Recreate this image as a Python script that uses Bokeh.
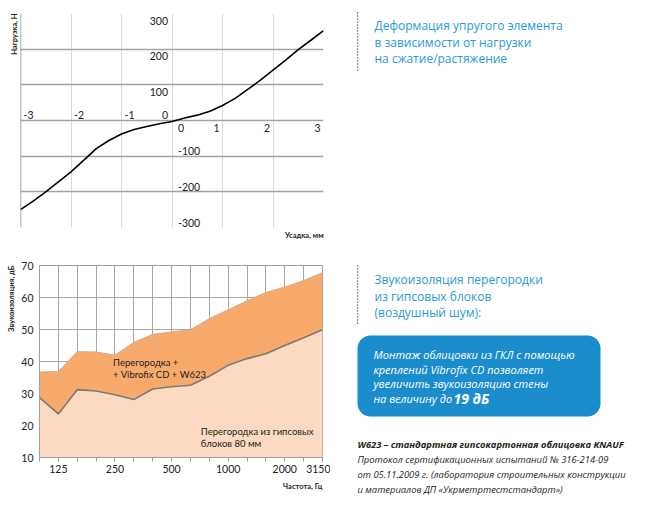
from bokeh.plotting import figure
from bokeh.models import Range1d, FixedTicker, Grid, Label, Span, ColumnDataSource, Title
from bokeh.layouts import column, row
from bokeh.embed import file_html
from bokeh.resources import INLINE
import math

# ---------------- data: deformation of elastic element ----------------
shrink_mm = [-3, -2.75, -2.5, -2.25, -2, -1.75, -1.5, -1.25, -1, -0.75, -0.5, -0.25, 0,
             0.25, 0.5, 0.75, 1, 1.25, 1.5, 1.75, 2, 2.25, 2.5, 2.75, 3]
load_n = [-250, -226, -200, -172, -144, -112, -79, -56, -38, -25, -17, -9, -3,
          7, 15, 26, 42, 62, 87, 113, 141, 169, 199, 225, 252]
top_x_ticks = [-3, -2, -1, 0, 1, 2, 3]
top_y_ticks = [-300, -200, -100, 0, 100, 200, 300]
top_x_title = "Усадка, мм"
top_y_title = "Нагрузка, Н"

# ---------------- data: sound insulation ----------------
freq_labels = ["100", "125", "160", "200", "250", "315", "400", "500", "630",
               "800", "1000", "1250", "1600", "2000", "2500", "3150"]
shown_freqs = ["125", "250", "500", "1000", "2000", "3150"]
with_vibrofix = [36.7, 36.9, 43.1, 43.0, 42.0, 46.0, 48.5, 49.3, 49.9, 53.4,
                 56.2, 59.0, 61.6, 63.3, 65.3, 67.8]
gypsum_wall = [28.7, 23.6, 31.2, 30.8, 29.6, 28.1, 31.4, 32.1, 32.6, 35.4,
               38.8, 40.9, 42.4, 45.0, 47.4, 49.9]
db_ticks = [10, 20, 30, 40, 50, 60, 70]
bot_x_title = "Частота, Гц"
bot_y_title = "Звукоизоляция, дБ"
series_upper_name = ["Перегородка +", "+ Vibrofix CD + W623"]
series_lower_name = ["Перегородка из гипсовых", "блоков 80 мм"]

FONT = "Lato"
HFONT = "Open Sans"
BLUE_TXT = "#2a9ad6"
INK = "#222222"


def drop_grids(f):
    f.center = [c for c in f.center if not isinstance(c, Grid)]


# ================= top chart =================
p1 = figure(width=348, height=258, x_range=Range1d(-3, 3), y_range=Range1d(-300, 300),
            x_axis_location=None, y_axis_location=None, output_backend="svg",
            toolbar_location=None, min_border_left=20, min_border_right=25,
            min_border_top=13, min_border_bottom=31)
drop_grids(p1)
p1.outline_line_color = None
p1.add_layout(Grid(dimension=0, ticker=FixedTicker(ticks=top_x_ticks[1:]),
                   grid_line_color="#d9d9d9", grid_line_width=1))
p1.add_layout(Grid(dimension=1, ticker=FixedTicker(ticks=top_y_ticks),
                   grid_line_color="#a3a3a3", grid_line_width=1.5))
p1.add_layout(Span(location=top_x_ticks[0], dimension="height",
                   line_color="#8c8c8c", line_width=1.5))
p1.line(shrink_mm, load_n, line_color="black", line_width=1.6)

for v in top_x_ticks:
    if v < 0:
        lab = Label(x=v, y=0, x_offset=3, y_offset=6, text=str(v), text_align="left")
    elif v == 0:
        lab = Label(x=v, y=0, x_offset=6, y_offset=-7, text=str(v), text_align="left")
    else:
        lab = Label(x=v, y=0, x_offset=-3, y_offset=-7, text=str(v), text_align="right")
    lab.text_baseline = "middle"
    lab.text_font = FONT
    lab.text_font_size = "10.5px"
    lab.text_color = INK
    p1.add_layout(lab)

for v in top_y_ticks:
    if v > 0:
        lab = Label(x=0, y=v, x_offset=-4, y_offset=-7, text=str(v), text_align="right")
    elif v == 0:
        lab = Label(x=0, y=v, x_offset=-4, y_offset=6, text=str(v), text_align="right")
    else:
        lab = Label(x=0, y=v, x_offset=6, y_offset=5, text=str(v), text_align="left")
    lab.text_baseline = "middle"
    lab.text_font = FONT
    lab.text_font_size = "10.5px"
    lab.text_color = INK
    p1.add_layout(lab)

p1.add_layout(Title(text=top_x_title, align="right", standoff=2, text_font=FONT,
                    text_font_size="7.5px", text_font_style="bold", text_color=INK),
              "below")
p1.add_layout(Title(text=top_y_title, align="right", standoff=4, text_font=FONT,
                    text_font_size="7.5px", text_font_style="bold", text_color=INK),
              "left")

# ================= bottom chart =================
idx = list(range(len(freq_labels)))
src = ColumnDataSource(dict(x=idx, base=[db_ticks[0]] * len(idx),
                            up=with_vibrofix, low=gypsum_wall))
p2 = figure(width=330, height=250, x_range=Range1d(idx[0], idx[-1]),
            y_range=Range1d(db_ticks[0], db_ticks[-1]), output_backend="svg",
            toolbar_location=None, min_border_left=39, min_border_right=8,
            min_border_top=7, min_border_bottom=51)
p2.outline_line_color = "#9e9e9e"
p2.varea(x="x", y1="base", y2="up", source=src, fill_color="#f7aa6c")
p2.varea(x="x", y1="base", y2="low", source=src, fill_color="#fbdac1")
p2.line(x="x", y="up", source=src, line_color="#c9a58a", line_width=0.8)
p2.line(x="x", y="low", source=src, line_color="#7a7a7a", line_width=1.6)

p2.yaxis.ticker = FixedTicker(ticks=db_ticks)
p2.yaxis.major_tick_out = 0
p2.yaxis.major_tick_in = 0
p2.yaxis.minor_tick_line_color = None
p2.yaxis.axis_line_color = "#9e9e9e"
p2.yaxis.major_label_standoff = 6
p2.yaxis.major_label_text_font = FONT
p2.yaxis.major_label_text_font_size = "10.5px"
p2.yaxis.major_label_text_color = INK

p2.xaxis.ticker = FixedTicker(ticks=idx)
p2.xaxis.major_label_overrides = {i: (f if f in shown_freqs else "") for i, f in zip(idx, freq_labels)}
p2.xaxis.major_tick_out = 4
p2.xaxis.major_tick_in = 0
p2.xaxis.major_tick_line_color = "#9e9e9e"
p2.xaxis.minor_tick_line_color = None
p2.xaxis.axis_line_color = "#9e9e9e"
p2.xaxis.major_label_standoff = 3
p2.xaxis.major_label_text_font = FONT
p2.xaxis.major_label_text_font_size = "10.5px"
p2.xaxis.major_label_text_color = INK
p2.xgrid.grid_line_color = "#a8a8a8"
p2.ygrid.grid_line_color = "#a8a8a8"

for k, t in enumerate(series_upper_name):
    p2.add_layout(Label(x=3.9, y=39.7, y_offset=-12 * k, text=t, text_baseline="middle",
                        text_font=FONT, text_font_size="9.5px", text_color=INK))
for k, t in enumerate(series_lower_name):
    p2.add_layout(Label(x=8.55, y=18.1, y_offset=-12 * k, text=t, text_baseline="middle",
                        text_font=FONT, text_font_size="9.5px", text_color=INK))

p2.add_layout(Title(text=bot_x_title, align="right", standoff=9, text_font=FONT,
                    text_font_size="7.5px", text_font_style="bold", text_color=INK),
              "below")
p2.add_layout(Title(text=bot_y_title, align="right", standoff=6, text_font=FONT,
                    text_font_size="7.5px", text_font_style="bold", text_color=INK),
              "left")


# ================= text panels =================
def text_fig(w, h):
    f = figure(width=w, height=h, x_range=Range1d(0, w), y_range=Range1d(h, 0),
               x_axis_location=None, y_axis_location=None, output_backend="svg",
               toolbar_location=None, min_border=0)
    drop_grids(f)
    f.outline_line_color = None
    return f


def put(f, x, y, text, size, color, style="normal", font=HFONT):
    f.add_layout(Label(x=x, y=y, text=text, text_baseline="middle", text_align="left",
                       text_font=font, text_font_size=size, text_color=color,
                       text_font_style=style))


t1 = text_fig(306, 258)
t1.segment(x0=[9], y0=[12], x1=[9], y1=[72], line_color="#333333", line_width=1.3,
           line_dash="1 2")
head1 = ["Деформация упругого элемента", "в зависимости от нагрузки",
         "на сжатие/растяжение"]
for k, t in enumerate(head1):
    put(t1, 26, 25 + 16.6 * k, t, "12px", BLUE_TXT)

t2 = text_fig(324, 250)
t2.segment(x0=[27], y0=[7], x1=[27], y1=[67], line_color="#333333", line_width=1.3,
           line_dash="1 2")
head2 = ["Звукоизоляция перегородки", "из гипсовых блоков", "(воздушный шум):"]
for k, t in enumerate(head2):
    put(t2, 44, 21.3 + 16.3 * k, t, "12px", BLUE_TXT)

t2.quad(left=[27], right=[270], top=[77], bottom=[158], fill_color="#1b8dcd",
        line_color=None, border_radius=13)
box_lines = ["Монтаж облицовки из ГКЛ с помощью", "креплений Vibrofix CD позволяет",
             "увеличить звукоизоляцию стены", "на величину до"]
for k, t in enumerate(box_lines):
    put(t2, 43, 96.3 + 14.5 * k, t, "11px", "white", "italic")
put(t2, 123, 96.3 + 14.5 * 3, "19 дБ", "14px", "white", "bold italic")

notes = [("W623 – стандартная гипсокартонная облицовка KNAUF", "bold italic"),
         ("Протокол сертификационных испытаний № 316-214-09", "italic"),
         ("от 05.11.2009 г. (лаборатория строительных конструкции", "italic"),
         ("и материалов ДП «Укрметртестстандарт»)", "italic")]
for k, (t, st) in enumerate(notes):
    put(t2, 27, 186 + 15.1 * k, t, "9.4px", "#231f20", st)

layout = column(row(p1, column(t1)), row(p2, column(t2)))
open("out.html", "w").write(file_html(layout, INLINE))
